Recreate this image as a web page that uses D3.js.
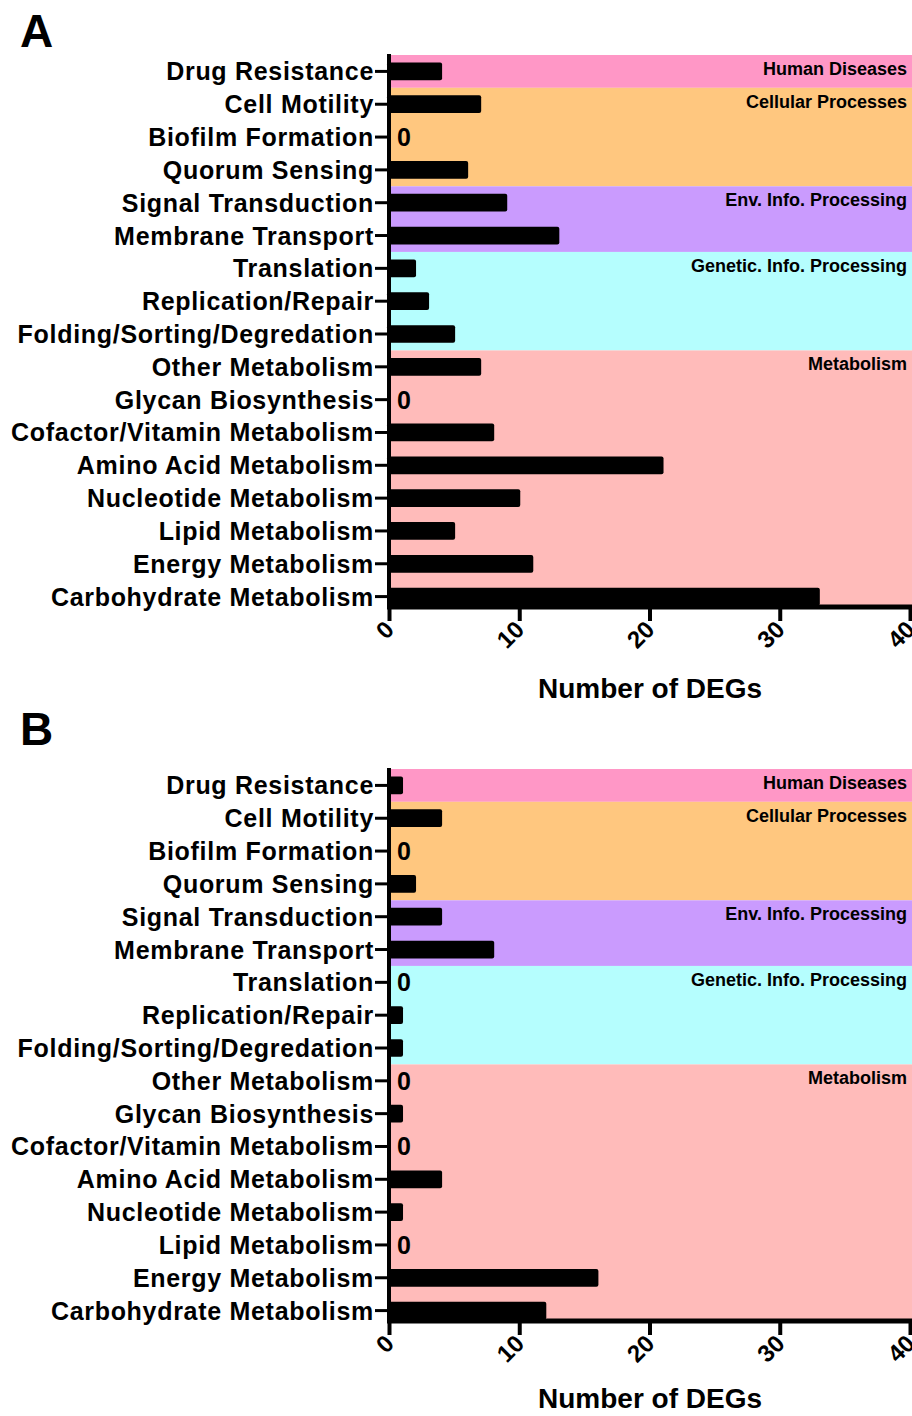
<!DOCTYPE html>
<html>
<head>
<meta charset="utf-8">
<script src="https://cdn.jsdelivr.net/npm/d3@7"></script>
<style>
  body { margin: 0; background: #fff; }
  svg text { font-family: "Liberation Sans", Arial, sans-serif; font-weight: bold; }
</style>
</head>
<body>
<svg id="chart" width="912" height="1416"></svg>
<script>
// Data
var categories = [
  "Drug Resistance", "Cell Motility", "Biofilm Formation", "Quorum Sensing",
  "Signal Transduction", "Membrane Transport", "Translation", "Replication/Repair",
  "Folding/Sorting/Degredation", "Other Metabolism", "Glycan Biosynthesis",
  "Cofactor/Vitamin Metabolism", "Amino Acid Metabolism", "Nucleotide Metabolism",
  "Lipid Metabolism", "Energy Metabolism", "Carbohydrate Metabolism"
];
var categoryGroup = [
  "Human Diseases", "Cellular Processes", "Cellular Processes", "Cellular Processes",
  "Env. Info. Processing", "Env. Info. Processing", "Genetic. Info. Processing",
  "Genetic. Info. Processing", "Genetic. Info. Processing", "Metabolism", "Metabolism",
  "Metabolism", "Metabolism", "Metabolism", "Metabolism", "Metabolism", "Metabolism"
];
var groupNames = ["Human Diseases", "Cellular Processes", "Env. Info. Processing", "Genetic. Info. Processing", "Metabolism"];
var groupColors = ["#ff97c6", "#ffc77f", "#ca9bfe", "#b5fefe", "#ffbbba"];
var valuesA = [4, 7, 0, 6, 9, 13, 2, 3, 5, 7, 0, 8, 21, 10, 5, 11, 33];
var valuesB = [1, 4, 0, 2, 4, 8, 0, 1, 1, 0, 1, 0, 4, 1, 0, 16, 12];
var xTicks = [0, 10, 20, 30, 40];

var svg = d3.select("#chart");

function drawPanel(letter, values, top, letterY, titleY) {
  var g = svg.append("g");
  var axisY = top + 552;

  var x = d3.scaleLinear().domain([0, 40]).range([389, 910]);
  var y = d3.scaleBand().domain(categories).range([top, top + 558])
    .paddingInner(0.46).paddingOuter(0.23);
  var step = y.step();

  // Panel letter
  g.append("text").attr("x", 20).attr("y", letterY)
    .style("font-size", "46px").text(letter);

  // Background bands
  groupNames.forEach(function (name, i) {
    var rows = categories.filter(function (c, j) { return categoryGroup[j] === name; });
    var y0 = y(rows[0]) - step * 0.23;
    var y1 = Math.min(axisY, y(rows[rows.length - 1]) + y.bandwidth() + step * 0.23);
    g.append("rect").attr("x", x(0)).attr("y", y0)
      .attr("width", 912 - x(0)).attr("height", y1 - y0)
      .attr("fill", groupColors[i]);
    g.append("text").attr("x", 907).attr("y", y0 + 20)
      .attr("text-anchor", "end").style("font-size", "18px").text(name);
  });

  // Bars
  categories.forEach(function (c, j) {
    var v = values[j];
    if (v > 0) {
      g.append("rect").attr("x", x(0) - 2).attr("y", y(c))
        .attr("width", x(v) - x(0) + 3).attr("height", y.bandwidth())
        .attr("rx", 2).attr("fill", "#000");
    } else {
      g.append("text").attr("x", 397).attr("y", y(c) + y.bandwidth() / 2 + 9)
        .style("font-size", "25px").text("0");
    }
  });

  // Y axis
  var yAxis = g.append("g").attr("transform", "translate(" + x(0) + ",0)")
    .call(d3.axisLeft(y).tickSize(14).tickPadding(1));
  yAxis.select(".domain").attr("stroke-width", 4)
    .attr("d", "M0," + (top - 1) + "V" + axisY);
  yAxis.selectAll(".tick line").attr("stroke-width", 3);
  yAxis.selectAll(".tick text").style("font-size", "25px")
    .style("letter-spacing", "0.7px").attr("fill", "#000").attr("dy", "0.36em");

  // X axis
  var xAxis = g.append("g").attr("transform", "translate(0," + axisY + ")")
    .call(d3.axisBottom(x).tickValues(xTicks).tickSize(14).tickSizeOuter(0));
  xAxis.select(".domain").attr("stroke-width", 5)
    .attr("d", "M" + (x(0) - 2) + ",0H912");
  xAxis.selectAll(".tick line").attr("stroke-width", 4);
  xAxis.selectAll(".tick text")
    .style("font-size", "24px").attr("fill", "#000")
    .attr("text-anchor", "end")
    .attr("transform", "translate(0,18) rotate(-45)")
    .attr("dy", "0.35em").attr("y", 0).attr("x", 0);

  // Axis title
  g.append("text").attr("x", 650).attr("y", titleY)
    .attr("text-anchor", "middle").style("font-size", "28px")
    .text("Number of DEGs");
}

drawPanel("A", valuesA, 55, 47, 698);
drawPanel("B", valuesB, 769, 745, 1408);
</script>
</body>
</html>
